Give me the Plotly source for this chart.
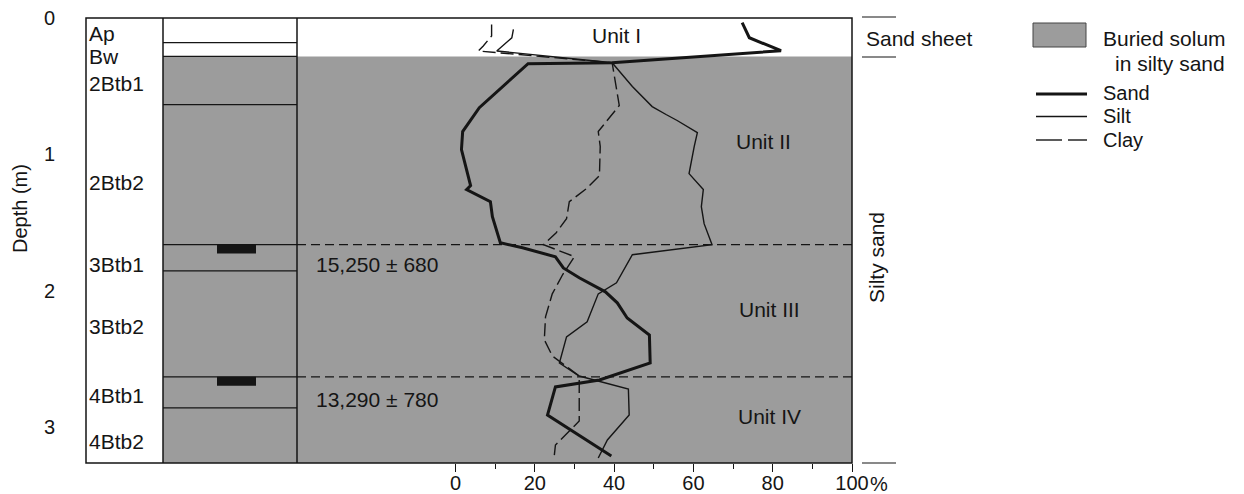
import plotly.graph_objects as go

# ---- particle-size profiles (percent vs depth in m) ----
sand_depth = [0.034, 0.145, 0.240, 0.328, 0.335, 0.658, 0.833, 0.965, 1.230, 1.259,
              1.348, 1.458, 1.649, 1.686, 1.752, 1.834, 1.906, 2.009, 2.090, 2.201,
              2.326, 2.531, 2.656, 2.707, 2.913, 3.214]
sand_pct = [72.3, 74.1, 82.1, 39.5, 18.3, 6.0, 1.8, 1.5, 3.8, 2.8,
            8.8, 9.3, 11.3, 16.9, 25.2, 27.2, 31.2, 37.8, 40.8, 43.3,
            48.9, 49.1, 36.3, 25.2, 23.2, 39.3]

silt_depth = [0.084, 0.145, 0.242, 0.328, 0.503, 0.650, 0.708, 0.752, 0.841, 0.943,
              1.142, 1.259, 1.384, 1.509, 1.663, 1.737, 1.943, 2.024, 2.229, 2.340,
              2.531, 2.627, 2.722, 2.913, 3.096, 3.228]
silt_pct = [14.6, 14.2, 10.4, 39.5, 44.6, 49.6, 53.1, 55.9, 61.0, 60.2,
            58.9, 62.5, 62.0, 62.7, 64.7, 44.6, 40.6, 36.0, 33.2, 28.0,
            26.2, 31.2, 43.6, 43.8, 38.3, 36.0]

clay_depth = [0.047, 0.132, 0.205, 0.242, 0.328, 0.642, 0.833, 0.943, 1.157, 1.252,
              1.348, 1.473, 1.575, 1.663, 1.751, 1.884, 2.024, 2.193, 2.361, 2.479,
              2.627, 2.957, 3.133, 3.214]
clay_pct = [9.1, 9.1, 7.0, 5.75, 39.5, 41.3, 36.0, 36.5, 36.3, 33.0,
            28.7, 28.0, 25.4, 22.2, 30.0, 27.0, 24.4, 22.7, 22.4, 24.4,
            31.2, 31.2, 25.2, 24.9]

# ---- soil horizons ----
horizon_names = ["Ap", "Bw", "2Btb1", "2Btb2", "3Btb1", "3Btb2", "4Btb1", "4Btb2"]
horizon_bounds = [0.180, 0.282, 0.635, 1.663, 1.855, 2.633, 2.861]
horizon_label_depth = [0.115, 0.280, 0.478, 1.208, 1.810, 2.265, 2.768, 3.109]
buried_top = 0.282
profile_bottom = 3.265

# radiocarbon-dated levels
date_depths = [1.663, 2.633]
date_labels = ["15,250 ± 680", "13,290 ± 780"]
sample_thickness = 0.065

x_ticks = [0, 20, 40, 60, 80, 100]
x_ticktext = ["0", "20", "40", "60", "80", "100"]
x_minor_ticks = [10, 30, 50, 70, 90]
depth_ticks = [0, 1, 2, 3]

# ---- page geometry ----
W, H = 1244, 494
L, R, T, B = 86, 852, 18, 463


def px(xp):
    return (xp - L) / (R - L)


def py(yp):
    return (B - yp) / (B - T)


INK = "#151515"
GRAY = "#9c9c9c"
FONT = "Liberation Sans, Arial, Helvetica, sans-serif"
COL1, COL2 = px(163), px(297)

fig = go.Figure()
fig.add_trace(go.Scatter(x=clay_pct, y=clay_depth, mode="lines", name="Clay",
                         line=dict(color=INK, width=1.4, dash="13px,5px")))
fig.add_trace(go.Scatter(x=silt_pct, y=silt_depth, mode="lines", name="Silt",
                         line=dict(color=INK, width=1.4)))
fig.add_trace(go.Scatter(x=sand_pct, y=sand_depth, mode="lines", name="Sand",
                         line=dict(color=INK, width=3)))

shapes = []
# buried solum shading: horizon column and data panel
shapes.append(dict(type="rect", xref="paper", yref="y", x0=COL1, x1=1,
                   y0=buried_top, y1=profile_bottom, fillcolor=GRAY,
                   line=dict(width=0), layer="below"))
# horizon boundaries in the horizon column
for d in horizon_bounds:
    shapes.append(dict(type="line", xref="paper", yref="y", x0=COL1, x1=COL2,
                       y0=d, y1=d, line=dict(color=INK, width=1.3), layer="below"))
# dated levels across the data panel, with the sampled charcoal bands
for d in date_depths:
    shapes.append(dict(type="line", xref="paper", yref="y", x0=COL2, x1=1,
                       y0=d, y1=d, line=dict(color=INK, width=1.4, dash="9px,5px"),
                       layer="below"))
    shapes.append(dict(type="rect", xref="paper", yref="y", x0=px(217), x1=px(256),
                       y0=d, y1=d + sample_thickness, fillcolor=INK,
                       line=dict(width=0), layer="below"))
# frame and column dividers
shapes.append(dict(type="rect", xref="paper", yref="paper", x0=0, x1=1, y0=0, y1=1,
                   line=dict(color=INK, width=1.5)))
for cx in (COL1, COL2):
    shapes.append(dict(type="line", xref="paper", yref="paper", x0=cx, x1=cx,
                       y0=0, y1=1, line=dict(color=INK, width=1.5)))
# right-hand bracket marks
for yp in (17, 57, 463):
    shapes.append(dict(type="line", xref="paper", yref="paper", x0=px(862), x1=px(896),
                       y0=py(yp), y1=py(yp), line=dict(color=INK, width=1.2)))
# key
shapes.append(dict(type="rect", xref="paper", yref="paper", x0=px(1033), x1=px(1086),
                   y0=py(47), y1=py(23), fillcolor=GRAY,
                   line=dict(color="#444", width=1)))
shapes.append(dict(type="line", xref="paper", yref="paper", x0=px(1036), x1=px(1087),
                   y0=py(94), y1=py(94), line=dict(color=INK, width=3)))
shapes.append(dict(type="line", xref="paper", yref="paper", x0=px(1036), x1=px(1087),
                   y0=py(116.5), y1=py(116.5), line=dict(color=INK, width=1.4)))
for a, b in ((1036, 1062), (1068, 1087)):
    shapes.append(dict(type="line", xref="paper", yref="paper", x0=px(a), x1=px(b),
                       y0=py(140), y1=py(140), line=dict(color=INK, width=1.4)))

ann = []


def text(s, x, y, xanchor="left", yref="paper", angle=0, size=21):
    ann.append(dict(text=s, x=x, y=y, xref="paper", yref=yref, xanchor=xanchor,
                    yanchor="middle", showarrow=False, textangle=angle, borderpad=0,
                    font=dict(family=FONT, size=size, color=INK)))


for name, d in zip(horizon_names, horizon_label_depth):
    text(name, px(88), d, yref="y")
for lab, yp in zip(date_labels, (264, 399)):
    text(lab, px(315), py(yp))
text("Unit I", px(616), py(35.5), xanchor="center")
text("Unit II", px(735), py(141))
text("Unit III", px(738), py(309))
text("Unit IV", px(737), py(416))
text("Sand sheet", px(865), py(38))
text("Silty sand", px(876), py(258), xanchor="center", angle=-90)
text("Buried solum", px(1102), py(38))
text("in silty sand", px(1114), py(63))
text("Sand", px(1102), py(93), size=20)
text("Silt", px(1102), py(116.5), size=20)
text("Clay", px(1102), py(140), size=20)
text("Depth (m)", px(20), py(209), xanchor="center", angle=-90, size=20)
text("%", px(869), py(484), size=20)

fig.update_layout(
    width=W, height=H, autosize=False,
    margin=dict(l=L, r=W - R, t=T, b=H - B, pad=0),
    paper_bgcolor="white", plot_bgcolor="white",
    showlegend=False,
    shapes=shapes, annotations=ann,
    font=dict(family=FONT, size=20, color=INK),
    xaxis=dict(range=[-93.2, 100], tickvals=x_ticks, ticktext=x_ticktext,
               ticks="outside", ticklen=8, tickwidth=1.2, tickcolor=INK,
               automargin=False, ticklabelstandoff=-6,
               showgrid=False, zeroline=False, showline=False,
               tickfont=dict(family=FONT, size=20, color=INK),
               minor=dict(tickvals=x_minor_ticks, ticks="outside",
                          ticklen=5, tickwidth=1.2, tickcolor=INK, showgrid=False)),
    yaxis=dict(range=[profile_bottom, 0], tickvals=depth_ticks,
               ticktext=[str(v) for v in depth_ticks], ticks="",
               automargin=False,
               showgrid=False, zeroline=False, showline=False,
               ticklabelstandoff=30,
               tickfont=dict(family=FONT, size=20, color=INK)),
)

fig.write_html("out.html")
